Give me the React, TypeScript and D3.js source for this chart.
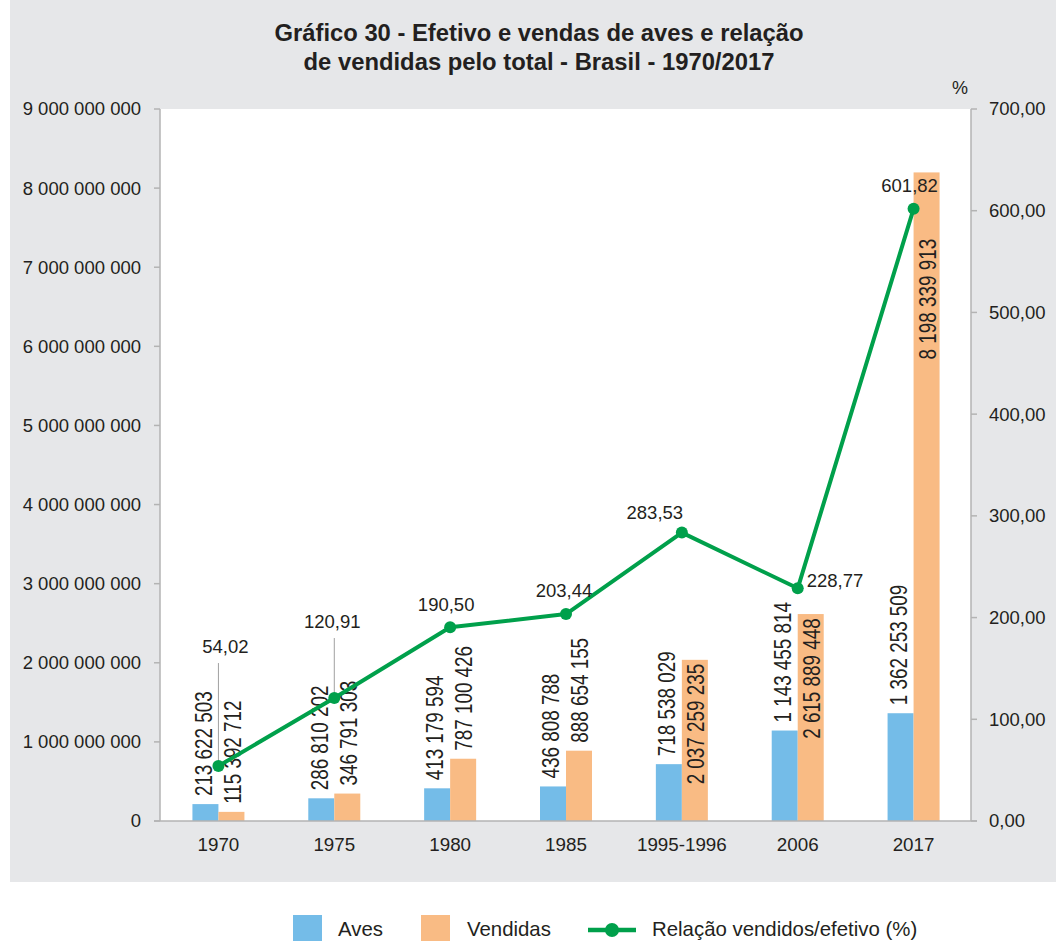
import React from "react";
import * as d3 from "d3";

const categories = ["1970", "1975", "1980", "1985", "1995-1996", "2006", "2017"];
const aves = [213622503, 286810202, 413179594, 436808788, 718538029, 1143455814, 1362253509];
const vendidas = [115392712, 346791303, 787100426, 888654155, 2037259235, 2615889448, 8198339913];
const relacao = [54.02, 120.91, 190.5, 203.44, 283.53, 228.77, 601.82];
const leftTicks = [0, 1e9, 2e9, 3e9, 4e9, 5e9, 6e9, 7e9, 8e9, 9e9];
const rightTicks = [0, 100, 200, 300, 400, 500, 600, 700];

const titleLines = [
  "Gráfico 30 - Efetivo e vendas de aves e relação",
  "de vendidas pelo total - Brasil - 1970/2017",
];
const legendLabels = ["Aves", "Vendidas", "Relação vendidos/efetivo (%)"];

// layout of line value labels (dx, baseline dy from point, anchor, leader line)
const lineLabelLayout = [
  { dx: 7, dy: -113, anchor: "middle", leader: true },
  { dx: -2, dy: -70, anchor: "middle", leader: true },
  { dx: -4, dy: -16, anchor: "middle", leader: false },
  { dx: -2, dy: -17, anchor: "middle", leader: false },
  { dx: -27, dy: -14, anchor: "middle", leader: false },
  { dx: 9, dy: -1, anchor: "start", leader: false },
  { dx: -4, dy: -17, anchor: "middle", leader: false },
];

const BLUE = "#74BCE8";
const ORANGE = "#F9BB84";
const GREEN = "#00A04B";
const TEXT = "#231F20";
const AXIS = "#B3B3B3";
const BG = "#E6E7E9";
const FONT = "'Liberation Sans', Arial, Helvetica, sans-serif";
const CONDENSE = 0.82;

const fmtSpace = (v: number) => d3.format(",")(v).replace(/,/g, " ");
const fmtPct = (v: number) => d3.format(".2f")(v).replace(".", ",");

export default function App() {
  const W = 1056, H = 941;
  const left = 160, right = 971, top = 109, bottom = 821;
  const x = d3.scaleBand<string>().domain(categories).range([left, right]).padding(0);
  const yL = d3.scaleLinear().domain([0, 9e9]).range([bottom, top]);
  const yR = d3.scaleLinear().domain([0, 700]).range([bottom, top]);
  const barW = 26;
  const cx = (i: number) => (x(categories[i]) as number) + x.bandwidth() / 2 + 0.5;

  const line = d3
    .line<number>()
    .x((_, i) => cx(i))
    .y((d) => yR(d));

  const labelFs = 23;
  const approxLen = (s: string) => {
    let w = 0;
    for (const c of s) w += c === " " ? 0.278 : 0.556;
    return w * labelFs * CONDENSE;
  };

  const barLabel = (v: number, bx: number, i: number, isOrange: boolean) => {
    const yTop = yL(v);
    const h = bottom - yTop;
    const txt = fmtSpace(v);
    const len = approxLen(txt);
    const inside = h > len + 20;
    const lx = bx + barW / 2 + (isOrange ? 1 : -2);
    const ly = inside ? yTop + Math.max(4, yR(relacao[i]) + 30 - yTop) : yTop - 8;
    return (
      <text
        key={`l${isOrange}${i}`}
        transform={`translate(${lx},${ly}) rotate(-90) scale(${CONDENSE},1)`}
        textAnchor={inside ? "end" : "start"}
        dy="0.36em"
        fontFamily={FONT}
        fontSize={labelFs}
        fill={TEXT}
      >
        {txt}
      </text>
    );
  };

  const legendText = (tx: number, s: string) => (
    <text x={tx} y={936} fontFamily={FONT} fontSize={20.4} fill={TEXT}>
      {s}
    </text>
  );

  return (
    <svg
      width={W}
      height={H}
      style={{ position: "absolute", left: 0, top: 0, background: "#fff" }}
    >
      <rect x={10} y={0} width={W - 10} height={882} fill={BG} />
      {titleLines.map((t, i) => (
        <text
          key={t}
          x={539}
          y={41 + i * 29}
          textAnchor="middle"
          fontFamily={FONT}
          fontWeight="bold"
          fontSize={23.8}
          fill={TEXT}
        >
          {t}
        </text>
      ))}
      <rect x={left} y={top} width={right - left} height={bottom - top} fill="#fff" />

      {/* left axis */}
      <line x1={left} x2={left} y1={top} y2={bottom} stroke={AXIS} strokeWidth={1.5} />
      {leftTicks.map((t) => (
        <g key={`lt${t}`}>
          <line x1={left - 6} x2={left} y1={yL(t)} y2={yL(t)} stroke={AXIS} strokeWidth={1.5} />
          <text
            x={141}
            y={yL(t)}
            dy="0.35em"
            textAnchor="end"
            fontFamily={FONT}
            fontSize={18.5}
            fill={TEXT}
          >
            {fmtSpace(t)}
          </text>
        </g>
      ))}
      {/* right axis */}
      <line x1={right} x2={right} y1={top} y2={bottom} stroke={AXIS} strokeWidth={1.5} />
      {rightTicks.map((t) => (
        <g key={`rt${t}`}>
          <line x1={right} x2={right + 6} y1={yR(t)} y2={yR(t)} stroke={AXIS} strokeWidth={1.5} />
          <text
            x={989}
            y={yR(t)}
            dy="0.35em"
            textAnchor="start"
            fontFamily={FONT}
            fontSize={18.5}
            fill={TEXT}
          >
            {fmtPct(t)}
          </text>
        </g>
      ))}
      <text x={960} y={94} textAnchor="middle" fontFamily={FONT} fontSize={18} fill={TEXT}>
        %
      </text>

      {/* bars */}
      {categories.map((c, i) => (
        <g key={`b${c}`}>
          <rect x={cx(i) - barW} y={yL(aves[i])} width={barW} height={bottom - yL(aves[i])} fill={BLUE} />
          <rect x={cx(i)} y={yL(vendidas[i])} width={barW} height={bottom - yL(vendidas[i])} fill={ORANGE} />
        </g>
      ))}
      {/* bottom axis */}
      <line x1={left - 6} x2={right + 6} y1={bottom} y2={bottom} stroke={AXIS} strokeWidth={1.5} />
      {categories.map((c, i) => (
        <text
          key={`c${c}`}
          x={cx(i)}
          y={851}
          textAnchor="middle"
          fontFamily={FONT}
          fontSize={18.8}
          fill={TEXT}
        >
          {c}
        </text>
      ))}

      {/* bar labels */}
      {categories.map((c, i) => barLabel(aves[i], cx(i) - barW, i, false))}
      {categories.map((c, i) => barLabel(vendidas[i], cx(i), i, true))}

      {/* leader lines */}
      {relacao.map((v, i) =>
        lineLabelLayout[i].leader ? (
          <line
            key={`ld${i}`}
            x1={cx(i)}
            x2={cx(i)}
            y1={yR(v) + lineLabelLayout[i].dy + 10}
            y2={yR(v)}
            stroke="#A0A0A0"
            strokeWidth={1}
          />
        ) : null
      )}

      {/* line */}
      <path d={line(relacao) as string} fill="none" stroke={GREEN} strokeWidth={4} strokeLinejoin="round" />
      {relacao.map((v, i) => (
        <circle key={`p${i}`} cx={cx(i)} cy={yR(v)} r={6} fill={GREEN} />
      ))}
      {relacao.map((v, i) => (
        <text
          key={`pl${i}`}
          x={cx(i) + lineLabelLayout[i].dx}
          y={yR(v) + lineLabelLayout[i].dy}
          textAnchor={lineLabelLayout[i].anchor as any}
          fontFamily={FONT}
          fontSize={18.5}
          fill={TEXT}
        >
          {fmtPct(v)}
        </text>
      ))}

      {/* legend */}
      <rect x={293} y={915} width={29} height={26} fill={BLUE} />
      {legendText(338, legendLabels[0])}
      <rect x={421} y={915} width={29} height={26} fill={ORANGE} />
      {legendText(467, legendLabels[1])}
      <line x1={588} x2={636} y1={930} y2={930} stroke={GREEN} strokeWidth={4.5} />
      <circle cx={612} cy={930} r={7} fill={GREEN} />
      {legendText(652, legendLabels[2])}
    </svg>
  );
}
